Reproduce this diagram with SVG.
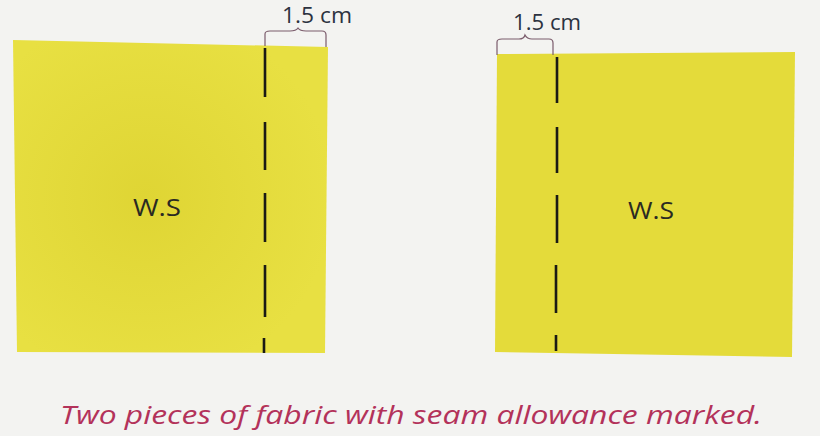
<svg xmlns="http://www.w3.org/2000/svg" width="820" height="436" viewBox="0 0 820 436">
<defs>
<style>
.fabric{fill:#e4db3a;}
.seam{stroke:#1a1a14;stroke-width:2.6;fill:none;}
.brace{stroke:#7b5c6c;stroke-width:1.2;fill:none;}
.dim{font-family:"Open Sans","Noto Sans",sans-serif;font-size:22px;fill:#2c3240;}
.ws{font-family:"Open Sans","Noto Sans",sans-serif;font-size:24px;fill:#2a2a22;}
.cap{font-family:"Open Sans","Noto Sans",sans-serif;font-style:italic;font-size:25px;fill:#b3325a;}
</style>
<radialGradient id="shadeL" cx="0.42" cy="0.5" r="0.6">
<stop offset="0" stop-color="#dfd534"/>
<stop offset="1" stop-color="#e8e042"/>
</radialGradient>
</defs>
<rect x="0" y="0" width="820" height="436" fill="#f3f3f1"/>
<g id="fabric-left">
<polygon class="fabric" points="13,40 328,47 325,353 17,352" style="fill:url(#shadeL)"/>
<path class="seam" d="M265,48 V97 M265,122 V170 M265,193 V242 M265,265 V317 M264,338 V353"/>
<text class="ws" x="133" y="216" textLength="48" lengthAdjust="spacingAndGlyphs">W.S</text>
</g>
<g id="fabric-right">
<polygon class="fabric" points="497,54 795,52 792,357 495,352"/>
<path class="seam" d="M557,57 V103 M557,127 V173 M557,195 V243 M556,265 V313 M556,335 V351"/>
<text class="ws" x="628" y="219" textLength="46" lengthAdjust="spacingAndGlyphs">W.S</text>
</g>
<g id="label-left">
<path class="brace" d="M265,46 V34 Q265,31 270,31 H290 Q296,31 298,28 Q300,31 306,31 H322 Q326,31 326,35 V47"/>
<text class="dim" x="282" y="23" textLength="70" lengthAdjust="spacingAndGlyphs">1.5 cm</text>
</g>
<g id="label-right">
<path class="brace" d="M497,55 V42 Q497,39 502,39 H519 Q524,39 525,35 Q527,39 532,39 H549 Q553,39 553,43 V55"/>
<text class="dim" x="513" y="30" textLength="68" lengthAdjust="spacingAndGlyphs">1.5 cm</text>
</g>
<g id="caption">
<text class="cap" x="60" y="424" textLength="702" lengthAdjust="spacingAndGlyphs">Two pieces of fabric with seam allowance marked.</text>
</g>
</svg>
